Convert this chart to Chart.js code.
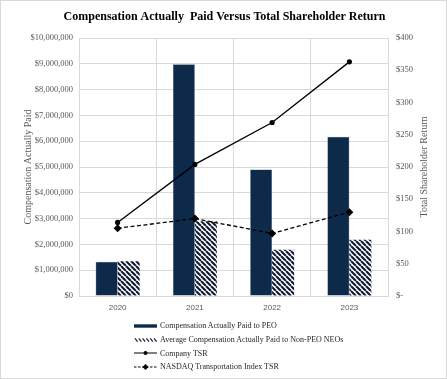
<!DOCTYPE html>
<html>
<head>
<meta charset="utf-8">
<script src="https://cdn.jsdelivr.net/npm/chart.js@4"></script>
<style>
  html, body { margin: 0; padding: 0; background: #fff; }
  #wrap { position: relative; width: 447px; height: 379px; box-sizing: border-box; border: 1px solid #d9d9d9; overflow: hidden; }
  #c { position: absolute; left: 0; top: 0; }
  #legend { position: absolute; left: 133px; top: 318px; font-family: "Liberation Serif", serif; font-size: 8px; color: #262626; }
  .row { display: flex; align-items: center; height: 13.7px; }
  .row svg { margin-right: 2px; }
</style>
</head>
<body>
<div id="wrap">
  <canvas id="c" width="447" height="379"></canvas>
  <div id="legend"></div>
</div>
<script>
const years = ['2020', '2021', '2022', '2023'];
const peoCap = [1330000, 8980000, 4900000, 6170000];
const nonPeoCap = [1350000, 2900000, 1790000, 2180000];
const companyTsr = [114, 204, 269, 363];
const nasdaqTsr = [105, 120, 97, 130];
const seriesNames = [
  'Compensation Actually Paid to PEO',
  'Average Compensation Actually Paid to Non-PEO NEOs',
  'Company TSR',
  'NASDAQ Transportation Index TSR'
];
const titleText = 'Compensation Actually  Paid Versus Total Shareholder Return';
const leftTitle = 'Compensation Actually Paid';
const rightTitle = 'Total Shareholder Return';

const navy = '#0e2a4b';
const grid = '#d9d9d9';
const tickColor = '#595959';

function hatch() {
  const s = 5;
  const cv = document.createElement('canvas');
  cv.width = s; cv.height = s;
  const g = cv.getContext('2d');
  g.fillStyle = '#fff';
  g.fillRect(0, 0, s, s);
  g.strokeStyle = '#121c33';
  g.lineWidth = 2.1;
  g.beginPath();
  for (const k of [-s, 0, s]) { g.moveTo(k, 0); g.lineTo(k + s, s); }
  g.stroke();
  return g.createPattern(cv, 'repeat');
}

const rightTitlePlugin = {
  id: 'rightTitle',
  afterDraw(chart) {
    const ctx = chart.ctx;
    const a = chart.chartArea;
    ctx.save();
    ctx.translate(423, (a.top + a.bottom) / 2);
    ctx.rotate(-Math.PI / 2);
    ctx.font = '10px "Liberation Serif"';
    ctx.fillStyle = tickColor;
    ctx.textAlign = 'center';
    ctx.textBaseline = 'middle';
    ctx.fillText(rightTitle, 0, 0);
    ctx.restore();
  }
};

const chart = new Chart(document.getElementById('c'), {
  type: 'bar',
  data: {
    labels: years,
    datasets: [
      { type: 'line', label: seriesNames[2], data: companyTsr, yAxisID: 'y1', order: 1,
        borderColor: '#000', backgroundColor: '#000', borderWidth: 1.3,
        pointStyle: 'circle', pointRadius: 2.6, pointBackgroundColor: '#000', pointBorderWidth: 0, tension: 0 },
      { type: 'line', label: seriesNames[3], data: nasdaqTsr, yAxisID: 'y1', order: 1,
        borderColor: '#000', backgroundColor: '#000', borderWidth: 1.3, borderDash: [4, 2.5],
        pointStyle: 'rectRot', pointRadius: 4, pointBackgroundColor: '#000', pointBorderWidth: 0, tension: 0 },
      { label: seriesNames[0], data: peoCap, yAxisID: 'y', order: 2,
        backgroundColor: navy, borderColor: '#5b6f86', borderWidth: 0.5,
        categoryPercentage: 0.57, barPercentage: 1 },
      { label: seriesNames[1], data: nonPeoCap, yAxisID: 'y', order: 2,
        backgroundColor: hatch(), borderWidth: 0,
        categoryPercentage: 0.57, barPercentage: 1 }
    ]
  },
  options: {
    responsive: false,
    animation: false,
    layout: { padding: { left: 0, right: 0, top: 0, bottom: 60 } },
    plugins: {
      legend: { display: false },
      tooltip: { enabled: false },
      title: {
        display: true, text: titleText, color: '#000',
        font: { family: '"Liberation Serif"', size: 12, weight: 'bold' },
        padding: { top: 9, bottom: 13.6 }
      }
    },
    scales: {
      x: {
        offset: true,
        grid: { color: grid, offset: true, drawTicks: false, lineWidth: 1 },
        border: { color: grid },
        ticks: { color: tickColor, font: { family: '"Liberation Sans"', size: 8 }, padding: 7 },
        afterFit(s) { s.height = 24; }
      },
      y: {
        position: 'left', min: 0, max: 10000000,
        grid: { color: grid, drawTicks: false },
        border: { color: grid },
        ticks: { stepSize: 1000000, color: tickColor, padding: 6,
          font: { family: '"Liberation Serif"', size: 8.5 },
          callback: v => '$' + Number(v).toLocaleString('en-US') },
        title: { display: true, text: leftTitle, color: tickColor,
          font: { family: '"Liberation Serif"', size: 10 }, padding: { top: 21, bottom: 0 } },
        afterFit(s) { s.width = 78; }
      },
      y1: {
        position: 'right', min: 0, max: 400,
        grid: { drawOnChartArea: false, drawTicks: false },
        border: { color: grid },
        ticks: { stepSize: 50, color: tickColor, padding: 8,
          font: { family: '"Liberation Serif"', size: 8.5 },
          callback: v => v === 0 ? '$-' : '$' + v },
        afterFit(s) { s.width = 60; }
      }
    }
  },
  plugins: [rightTitlePlugin]
});

// HTML legend built from the dataset labels
const ns = 'http://www.w3.org/2000/svg';
function swatch(kind) {
  const svg = document.createElementNS(ns, 'svg');
  svg.setAttribute('width', '24'); svg.setAttribute('height', '10');
  let h = '';
  if (kind === 0) h = `<rect x="0" y="3.3" width="23" height="3.4" fill="${navy}"/>`;
  if (kind === 1) { for (let i = 0; i < 6; i++) { const x = 1 + i * 3.8; h += `<line x1="${x}" y1="3.3" x2="${x + 2.6}" y2="6.7" stroke="#16223a" stroke-width="1.2"/>`; } }
  if (kind === 2) h = `<line x1="0" y1="5" x2="23" y2="5" stroke="#000" stroke-width="1"/><circle cx="11.5" cy="5" r="2" fill="#000"/>`;
  if (kind === 3) h = `<line x1="0" y1="5" x2="23" y2="5" stroke="#000" stroke-width="1" stroke-dasharray="2.5 1.5"/><path d="M11.5 2 L14.5 5 L11.5 8 L8.5 5 Z" fill="#000"/>`;
  svg.innerHTML = h;
  return svg;
}
const leg = document.getElementById('legend');
seriesNames.forEach((name, i) => {
  const row = document.createElement('div');
  row.className = 'row';
  row.appendChild(swatch(i));
  const t = document.createElement('span');
  t.textContent = name;
  row.appendChild(t);
  leg.appendChild(row);
});
</script>
</body>
</html>
